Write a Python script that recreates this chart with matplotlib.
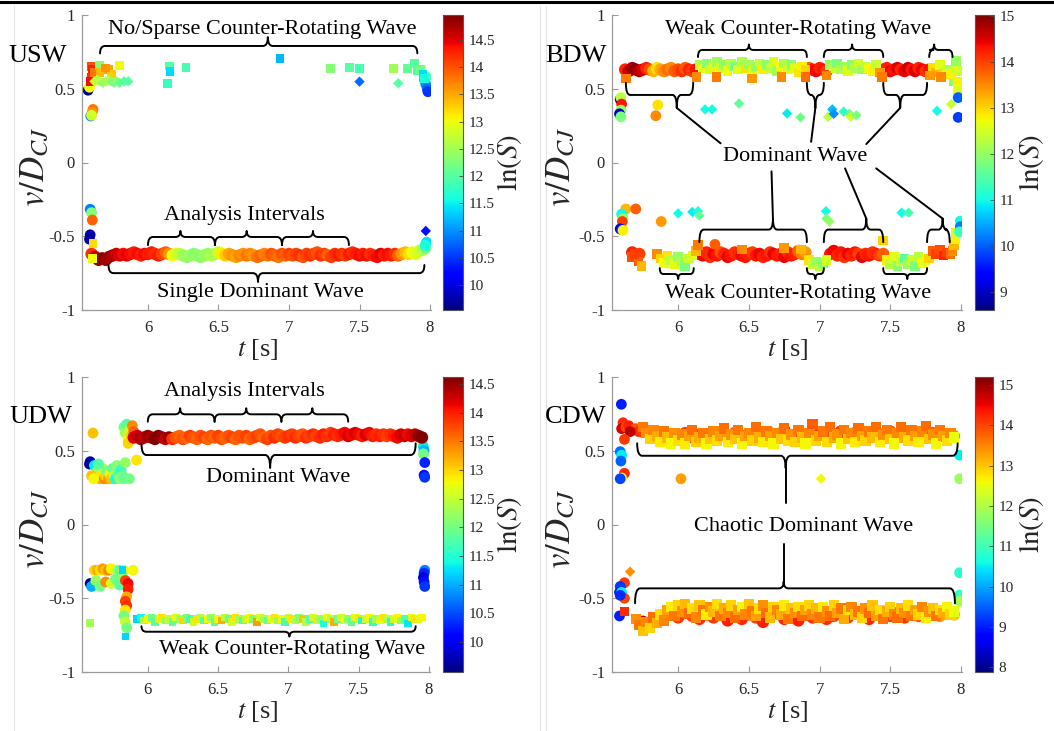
import numpy as np
import matplotlib
matplotlib.use('Agg')
import matplotlib.pyplot as plt
from matplotlib.path import Path
from matplotlib.patches import PathPatch
from matplotlib.lines import Line2D
from matplotlib.colors import Normalize
from matplotlib.cm import ScalarMappable

plt.rcParams['font.family'] = ['Liberation Serif', 'DejaVu Serif']
plt.rcParams['mathtext.fontset'] = 'stix'

# ---------------- axis / tick definitions ----------------
x_ticks = [6, 6.5, 7, 7.5, 8]
x_ticklabels = ['6', '6.5', '7', '7.5', '8']
y_ticks = [-1, -0.5, 0, 0.5, 1]
y_ticklabels = ['-1', '-0.5', '0', '0.5', '1']
panel_names = ['USW', 'BDW', 'UDW', 'CDW']

usw_clim = (9.55, 14.95)
usw_cticks = [10, 10.5, 11, 11.5, 12, 12.5, 13, 13.5, 14, 14.5]
bdw_clim = (8.6, 15.02)
bdw_cticks = [9, 10, 11, 12, 13, 14, 15]
udw_clim = (9.48, 14.62)
udw_cticks = [10, 10.5, 11, 11.5, 12, 12.5, 13, 13.5, 14, 14.5]
cdw_clim = (7.88, 15.2)
cdw_cticks = [8, 9, 10, 11, 12, 13, 14, 15]

# ---------------- USW data ----------------
usw_band_t = (5.60, 7.95)
usw_band_v = [-0.62, -0.64, -0.66, -0.65, -0.66,
              -0.64, -0.63, -0.62, -0.63, -0.62, -0.63, -0.62, -0.61, -0.62, -0.63, -0.62, -0.62,
              -0.61, -0.62, -0.63, -0.62, -0.61, -0.62, -0.63, -0.62, -0.62, -0.63, -0.64, -0.63, -0.62, -0.63, -0.64, -0.63, -0.62, -0.63, -0.62, -0.61,
              -0.62, -0.63, -0.62, -0.63, -0.64, -0.63, -0.62, -0.63, -0.62, -0.63, -0.64, -0.63, -0.62, -0.63, -0.62, -0.63, -0.64, -0.62, -0.63, -0.62,
              -0.63, -0.62, -0.63, -0.64, -0.62, -0.63, -0.62, -0.61, -0.63, -0.62, -0.63, -0.64, -0.62, -0.63, -0.62, -0.63, -0.62, -0.61, -0.62, -0.63,
              -0.62, -0.63, -0.62, -0.63, -0.64, -0.62, -0.63, -0.62, -0.63, -0.62, -0.63, -0.62, -0.61, -0.62, -0.61, -0.62, -0.60, -0.59]
usw_band_c = [14.2, 14.6, 14.9, 14.9, 14.8,
              14.8, 14.7, 14.6, 14.5, 14.4, 14.5, 14.4, 14.3, 14.4, 14.3, 14.4, 14.3,
              14.3, 14.2, 14.3, 14.1, 13.9, 13.6, 13.0, 12.9, 12.7, 12.5, 12.4, 12.5, 12.3, 12.4, 12.3, 12.5, 12.4, 12.6, 12.5, 12.8,
              13.1, 13.3, 13.5, 13.6, 13.5, 13.7, 13.6, 13.8, 13.7, 13.6, 13.8, 13.9, 13.7, 13.8, 14.0, 13.9, 13.8, 14.0, 13.9, 14.1,
              14.0, 14.1, 14.2, 14.0, 14.1, 14.2, 14.1, 14.0, 14.2, 14.1, 13.9, 14.1, 14.2, 14.3, 14.2, 14.1, 14.3, 14.2, 14.3, 14.4,
              14.3, 14.4, 14.2, 14.3, 14.4, 14.5, 14.3, 14.4, 14.3, 14.2, 13.9, 13.6, 13.4, 13.2, 13.0, 12.9, 12.8, 12.6]

usw_circ_t = [5.575, 5.585, 5.61, 5.605, 5.594, 5.60, 5.59, 5.60, 5.605, 5.59, 5.585,
              7.96, 7.97, 7.98, 7.985, 7.975, 7.975, 7.97, 7.965]
usw_circ_v = [0.49, 0.51, 0.36, 0.34, 0.315, 0.32, -0.317, -0.34, -0.39, -0.49, -0.52,
              0.56, 0.53, 0.50, 0.48, 0.58, -0.54, -0.58, -0.56]
usw_circ_c = [9.7, 13.0, 13.8, 13.6, 11.0, 12.8, 10.9, 12.3, 13.9, 9.8, 9.7,
              11.3, 11.0, 10.8, 10.5, 12.0, 11.4, 12.0, 11.6]

usw_sq_t = [5.60, 5.605, 5.60, 5.595, 5.62, 5.655, 5.66, 5.72, 5.74, 5.80, 5.70,
            6.15, 6.156, 6.14, 6.27, 6.936, 7.296, 7.43, 7.50, 7.74, 7.84, 7.89, 7.91, 7.93, 7.95, 7.96,
            5.61, 5.605]
usw_sq_v = [0.65, 0.63, 0.58, 0.55, 0.61, 0.66, 0.61, 0.63, 0.60, 0.66, 0.64,
            0.654, 0.616, 0.537, 0.645, 0.706, 0.638, 0.645, 0.636, 0.638, 0.638, 0.67, 0.62, 0.63, 0.60, 0.57,
            -0.55, -0.65]
usw_sq_c = [14.0, 14.3, 14.2, 14.4, 13.8, 12.3, 13.4, 13.5, 13.3, 13.0, 13.6,
            12.0, 11.4, 11.8, 11.9, 11.2, 12.3, 12.0, 11.9, 12.5, 12.1, 12.0, 12.0, 12.2, 11.4, 11.6,
            13.2, 13.0]

usw_dia_t = [5.62, 5.64, 5.66, 5.68, 5.70, 5.72, 5.74, 5.76, 5.78, 5.80, 5.83, 5.86, 7.50, 7.775, 7.97]
usw_dia_v = [0.55, 0.56, 0.55, 0.54, 0.55, 0.56, 0.55, 0.54, 0.55, 0.54, 0.55, 0.55, 0.548, 0.537, -0.464]
usw_dia_c = [12.8, 12.6, 12.7, 12.4, 12.5, 12.6, 12.3, 12.2, 12.4, 12.1, 12.0, 12.0, 10.8, 12.0, 10.3]

# ---------------- BDW data ----------------
bdw_top_circ_a_t = (5.625, 6.125)
bdw_top_circ_a_v = [0.63, 0.62, 0.64, 0.63, 0.62, 0.63, 0.64, 0.63, 0.62, 0.64, 0.63, 0.62, 0.63, 0.64, 0.62, 0.63, 0.62, 0.64, 0.63, 0.62, 0.63]
bdw_top_circ_a_c = [14.2, 14.6, 14.8, 14.9, 14.7, 14.5, 14.2, 13.9, 13.2, 12.9, 13.3, 13.5, 13.7, 13.5, 13.8, 13.9, 14.1, 13.8, 14.2, 14.0, 14.3]
bdw_top_circ_b_t = (6.925, 7.05)
bdw_top_circ_b_v = [0.64, 0.63, 0.62, 0.64, 0.63, 0.62]
bdw_top_circ_b_c = [13.8, 14.3, 14.4, 14.2, 14.3, 14.0]
bdw_top_circ_c_t = (7.45, 7.775)
bdw_top_circ_c_v = [0.63, 0.64, 0.62, 0.63, 0.64, 0.63, 0.62, 0.64, 0.63, 0.62, 0.64, 0.63, 0.62, 0.63]
bdw_top_circ_c_c = [13.9, 14.2, 14.4, 14.3, 14.5, 14.2, 14.4, 14.6, 14.3, 14.5, 14.2, 14.4, 14.1, 14.3]

bdw_top_sq_d_t = (6.15, 6.90)
bdw_top_sq_d_v = [0.66, 0.64, 0.67, 0.63, 0.65, 0.68, 0.64, 0.66, 0.62, 0.67, 0.65, 0.63, 0.68, 0.64, 0.66, 0.62,
                  0.65, 0.67, 0.63, 0.66, 0.64, 0.68, 0.62, 0.65, 0.67, 0.63, 0.66, 0.64, 0.61, 0.65, 0.63]
bdw_top_sq_d_c = [12.2, 12.6, 11.9, 12.4, 12.8, 12.1, 12.5, 12.0, 12.7, 12.3, 11.8, 12.6, 12.2, 12.9, 12.1, 12.5,
                  12.0, 12.4, 12.8, 11.9, 12.3, 12.6, 12.1, 12.7, 12.2, 12.5, 11.9, 12.6, 12.9, 12.8, 13.0]
bdw_top_sq_e_t = (7.075, 7.425)
bdw_top_sq_e_v = [0.66, 0.64, 0.67, 0.63, 0.65, 0.62, 0.66, 0.64, 0.67, 0.63, 0.65, 0.64, 0.62, 0.66, 0.61]
bdw_top_sq_e_c = [12.0, 12.4, 11.8, 12.3, 12.1, 12.6, 11.9, 12.2, 12.5, 12.0, 12.3, 12.7, 12.8, 12.4, 13.4]
bdw_top_sq_f_t = (7.80, 7.95)
bdw_top_sq_f_v = [0.64, 0.61, 0.66, 0.60, 0.63, 0.62, 0.55]
bdw_top_sq_f_c = [12.9, 13.2, 12.6, 13.0, 12.4, 12.2, 12.0]

bdw_bot_circ_g_t = (6.15, 6.90)
bdw_bot_circ_g_v = [-0.62, -0.63, -0.61, -0.64, -0.62, -0.63, -0.61, -0.62, -0.64, -0.63, -0.61, -0.62, -0.63, -0.64, -0.62, -0.61,
                    -0.63, -0.62, -0.64, -0.63, -0.61, -0.62, -0.63, -0.62, -0.64, -0.61, -0.63, -0.62, -0.60, -0.62, -0.61]
bdw_bot_circ_g_c = [14.3, 14.4, 14.2, 14.1, 14.4, 14.3, 13.9, 14.2, 14.4, 14.3, 14.1, 14.2, 14.4, 14.3, 14.2, 14.0,
                    14.3, 14.4, 14.2, 14.3, 14.1, 14.4, 14.3, 14.2, 14.4, 14.1, 14.3, 14.2, 13.8, 13.6, 13.4]
bdw_bot_circ_h_t = (7.075, 7.45)
bdw_bot_circ_h_v = [-0.62, -0.60, -0.63, -0.61, -0.64, -0.62, -0.63, -0.61, -0.62, -0.64, -0.62, -0.63, -0.61, -0.62, -0.63, -0.62]
bdw_bot_circ_h_c = [14.3, 14.4, 14.2, 14.3, 14.1, 14.4, 14.2, 14.3, 14.0, 14.4, 14.2, 14.3, 14.1, 14.2, 14.0, 13.8]
bdw_bot_circ_i_t = (5.675, 5.725)
bdw_bot_circ_i_v = [-0.61, -0.63, -0.62]
bdw_bot_circ_i_c = [14.2, 14.4, 14.0]

bdw_bot_sq_j_t = (5.85, 6.125)
bdw_bot_sq_j_v = [-0.62, -0.65, -0.68, -0.63, -0.66, -0.69, -0.64, -0.67, -0.70, -0.65, -0.63, -0.60]
bdw_bot_sq_j_c = [13.5, 13.0, 12.7, 12.9, 12.3, 12.6, 12.0, 12.2, 11.8, 12.4, 12.6, 13.2]
bdw_bot_sq_k_t = (6.925, 7.05)
bdw_bot_sq_k_v = [-0.66, -0.69, -0.67, -0.70, -0.68, -0.66]
bdw_bot_sq_k_c = [12.9, 12.4, 12.0, 12.3, 11.9, 12.5]
bdw_bot_sq_l_t = (7.475, 7.775)
bdw_bot_sq_l_v = [-0.66, -0.69, -0.64, -0.70, -0.67, -0.65, -0.69, -0.66, -0.70, -0.64, -0.68, -0.66, -0.65]
bdw_bot_sq_l_c = [12.8, 12.3, 12.6, 11.9, 12.4, 11.6, 12.1, 12.5, 11.8, 12.3, 12.7, 12.6, 13.0]
bdw_bot_sq_m_t = (7.80, 7.925)
bdw_bot_sq_m_v = [-0.60, -0.62, -0.59, -0.63, -0.61, -0.62]
bdw_bot_sq_m_c = [13.8, 14.0, 13.9, 14.2, 14.0, 13.7]

bdw_circ_t = [5.59, 5.595, 5.60, 5.595, 5.585, 5.595, 5.856, 5.842, 7.98, 7.98,
              5.63, 5.70, 5.60, 5.61, 5.605, 5.59, 5.60, 5.61, 5.88, 6.26, 7.995, 7.995, 7.99]
bdw_circ_v = [0.428, 0.44, 0.396, 0.355, 0.33, 0.31, 0.39, 0.317, 0.44, 0.306,
              -0.315, -0.315, -0.35, -0.38, -0.40, -0.45, -0.455, -0.46, -0.40, -0.555, -0.397, -0.435, -0.47]
bdw_circ_c = [8.8, 12.3, 14.3, 12.0, 9.0, 11.8, 12.9, 13.5, 10.0, 9.8,
              13.2, 13.8, 11.0, 12.0, 14.0, 9.0, 9.6, 12.8, 13.4, 13.8, 11.0, 10.2, 11.3]

bdw_sq_t = [5.63, 6.13, 6.27, 6.52, 6.73, 6.90, 7.05, 7.44, 7.78, 7.86, 7.93, 7.965, 7.97, 7.975, 7.98,
            6.14, 6.45, 6.75, 6.87, 5.67, 5.72, 5.74, 5.69, 7.94, 7.95, 7.96, 7.965, 7.45]
bdw_sq_v = [0.57, 0.58, 0.58, 0.57, 0.58, 0.58, 0.59, 0.58, 0.59, 0.58, 0.60, 0.69, 0.62, 0.55, 0.50,
            -0.56, -0.59, -0.58, -0.59, -0.64, -0.67, -0.70, -0.62, -0.60, -0.56, -0.52, -0.48, -0.53]
bdw_sq_c = [13.6, 13.5, 13.6, 13.4, 13.5, 13.7, 13.5, 13.6, 13.4, 13.5, 12.8, 12.0, 12.5, 12.8, 12.6,
            13.6, 13.5, 13.4, 13.2, 13.9, 13.8, 13.2, 14.0, 13.5, 13.2, 12.8, 12.5, 13.0]

bdw_dia_t = [6.19, 6.24, 6.43, 6.77, 6.865, 7.06, 7.09, 7.10, 7.17, 7.21, 7.22, 7.26, 7.83, 7.93,
             6.0, 6.1, 6.14, 6.15, 7.045, 7.05, 7.07, 7.58, 7.63]
bdw_dia_v = [0.36, 0.36, 0.40, 0.333, 0.306, 0.31, 0.36, 0.33, 0.345, 0.33, 0.31, 0.32, 0.35, 0.395,
             -0.345, -0.335, -0.33, -0.36, -0.33, -0.38, -0.40, -0.34, -0.34]
bdw_dia_c = [11.0, 11.0, 11.6, 10.9, 11.7, 12.3, 10.6, 10.3, 11.2, 11.6, 12.5, 11.8, 11.0, 12.4,
             11.0, 10.9, 11.1, 11.6, 11.0, 11.8, 12.0, 11.0, 11.4]

# ---------------- UDW data ----------------
udw_top_t = (5.90, 7.95)
udw_top_v = [0.59, 0.60, 0.58, 0.59, 0.60, 0.59, 0.58, 0.60, 0.59, 0.58, 0.59,
             0.58, 0.59, 0.60, 0.58, 0.59, 0.60, 0.59, 0.58, 0.60, 0.59, 0.58, 0.60, 0.59, 0.60, 0.58, 0.59, 0.60, 0.59, 0.58, 0.60,
             0.59, 0.60, 0.58, 0.59, 0.60, 0.61, 0.59, 0.58, 0.60, 0.59, 0.61, 0.60, 0.59, 0.60, 0.61, 0.59, 0.60, 0.61, 0.59, 0.60,
             0.61, 0.60, 0.59, 0.61, 0.60, 0.62, 0.61, 0.60, 0.61, 0.62, 0.60, 0.61, 0.62, 0.61, 0.60, 0.61, 0.62, 0.60, 0.61, 0.60,
             0.61, 0.60, 0.61, 0.60, 0.59, 0.61, 0.60, 0.61, 0.60, 0.61, 0.60, 0.59]
udw_top_c = [14.2, 14.3, 14.4, 14.3, 14.5, 14.4, 14.6, 14.6, 14.5, 14.3, 14.5,
             13.9, 13.7, 13.6, 13.7, 13.6, 13.8, 13.7, 13.6, 13.7, 13.8, 13.6, 13.7, 13.6, 13.8, 13.7, 13.6, 13.7, 13.8, 13.6, 13.7,
             13.7, 13.8, 13.6, 13.7, 13.8, 13.7, 13.6, 13.8, 13.7, 13.9, 13.8, 13.7, 13.8, 13.9, 13.8, 13.9, 13.8, 13.7, 13.9, 13.8,
             13.9, 13.8, 13.9, 14.0, 13.9, 13.8, 14.0, 13.9, 14.0, 14.1, 14.2, 14.1, 14.2, 14.1, 14.0, 14.2, 14.1, 14.0, 13.9, 14.0,
             13.9, 13.8, 13.9, 14.0, 14.1, 14.2, 14.3, 14.1, 14.2, 14.3, 14.5, 14.6]

udw_bot_t = (5.925, 7.95)
udw_bot_v = [-0.64, -0.63, -0.65, -0.64, -0.63, -0.66, -0.64, -0.63, -0.65, -0.64,
             -0.66, -0.63, -0.64, -0.65, -0.63, -0.64, -0.66, -0.64, -0.63, -0.65,
             -0.64, -0.63, -0.66, -0.64, -0.65, -0.63, -0.64, -0.66, -0.63, -0.64,
             -0.65, -0.64, -0.63, -0.64, -0.66, -0.63, -0.64, -0.65, -0.64, -0.63,
             -0.65, -0.64, -0.66, -0.63, -0.64, -0.65, -0.63, -0.64, -0.66, -0.64,
             -0.63, -0.65, -0.64, -0.67, -0.63, -0.64, -0.66, -0.64, -0.63, -0.65,
             -0.64, -0.66, -0.63, -0.64, -0.65, -0.64, -0.63, -0.66, -0.64, -0.65,
             -0.63, -0.64, -0.66, -0.64, -0.63, -0.65, -0.64, -0.67, -0.63, -0.64,
             -0.64, -0.63]
udw_bot_c = [11.2, 11.4, 12.4, 12.8, 12.0, 11.8, 12.6, 12.9, 12.2, 12.5,
             11.9, 12.7, 12.3, 13.0, 12.1, 11.7, 12.6, 12.9, 12.4, 11.8,
             12.8, 12.2, 11.9, 12.7, 13.2, 12.4, 12.0, 12.6, 12.9, 12.3,
             11.8, 12.5, 12.8, 12.1, 13.3, 12.6, 12.4, 11.9, 12.7, 12.9,
             12.2, 12.8, 11.7, 12.5, 12.9, 12.3, 12.1, 13.1, 12.4, 11.8,
             12.6, 12.9, 12.3, 11.5, 12.7, 12.4, 13.2, 12.0, 12.6, 12.8,
             12.2, 11.9, 12.7, 12.9, 11.4, 12.5, 12.8, 11.6, 12.3, 12.7,
             12.9, 12.4, 11.5, 12.6, 12.8, 12.2, 11.8, 11.3, 12.7, 12.9,
             12.6, 12.8]

udw_circ_t = [5.61, 5.59, 5.585,
              5.62, 5.64, 5.63, 5.66, 5.67, 5.68, 5.69, 5.70, 5.71, 5.72, 5.73, 5.74, 5.75, 5.76, 5.77, 5.78, 5.79, 5.80,
              5.81, 5.82, 5.83, 5.84, 5.65, 5.60, 5.615, 5.87, 5.92,
              5.83, 5.84, 5.85, 5.86, 5.87, 5.88, 5.89, 5.90, 5.86,
              7.95, 7.955, 7.96, 7.965, 7.96, 7.97, 7.965, 7.97,
              5.62, 5.64, 5.66, 5.68, 5.70, 5.72, 5.74, 5.78, 5.80, 5.83, 5.895,
              5.59, 5.60, 5.63, 5.66, 5.70, 5.74, 5.77, 5.80, 5.82, 5.84, 5.86, 5.86,
              5.85, 5.84, 5.85, 5.84, 5.83, 5.84, 5.85,
              7.97, 7.965, 7.96, 7.965, 7.97]
udw_circ_v = [0.62, 0.426, 0.41,
              0.40, 0.36, 0.32, 0.31, 0.34, 0.38, 0.31, 0.33, 0.36, 0.31, 0.34, 0.31, 0.38, 0.33, 0.31, 0.40, 0.34, 0.31,
              0.37, 0.33, 0.31, 0.42, 0.41, 0.33, 0.31, 0.31, 0.437,
              0.66, 0.62, 0.68, 0.58, 0.64, 0.60, 0.67, 0.63, 0.55,
              0.58, 0.55, 0.527, 0.50, 0.48, 0.42, 0.335, 0.32,
              -0.31, -0.31, -0.31, -0.30, -0.31, -0.31, -0.30, -0.31, -0.31, -0.31, -0.31,
              -0.40, -0.42, -0.38, -0.42, -0.39, -0.40, -0.37, -0.41, -0.35, -0.38, -0.40, -0.44,
              -0.49, -0.52, -0.55, -0.58, -0.62, -0.66, -0.70,
              -0.31, -0.33, -0.36, -0.39, -0.42]
udw_circ_c = [13.1, 9.8, 9.6,
              11.3, 12.2, 12.6, 13.2, 12.9, 12.4, 13.4, 13.0, 12.0, 13.3, 12.7, 13.1, 11.9, 12.5, 11.4, 12.1, 11.8, 12.3,
              11.6, 12.0, 11.9, 12.2, 11.8, 13.1, 12.8, 12.0, 12.9,
              12.0, 12.3, 11.8, 12.8, 12.5, 13.0, 13.4, 13.6, 13.0,
              13.0, 12.8, 11.3, 11.0, 12.0, 10.3, 10.2, 10.4,
              13.0, 13.2, 12.9, 13.3, 13.1, 13.4, 12.8, 12.5, 11.9, 12.7, 12.8,
              9.6, 11.0, 12.2, 12.0, 13.4, 12.6, 12.0, 11.8, 12.1, 13.8, 14.1, 14.0,
              13.2, 13.8, 13.9, 12.9, 12.0, 12.5, 12.0,
              10.8, 10.3, 9.9, 10.2, 10.4]

udw_sq_t = [5.59, 5.84, 5.82]
udw_sq_v = [-0.668, -0.76, -0.31]
udw_sq_c = [12.3, 11.2, 11.2]

# ---------------- CDW data ----------------
cdw_top_sq_t = (5.75, 7.95)
cdw_top_sq_v = [0.66, 0.62, 0.58, 0.64, 0.60, 0.56, 0.63, 0.59, 0.55, 0.62,
                0.57, 0.61, 0.55, 0.60, 0.64, 0.56, 0.59, 0.62, 0.55, 0.58,
                0.63, 0.57, 0.60, 0.65, 0.56, 0.61, 0.58, 0.64, 0.55, 0.60,
                0.62, 0.57, 0.66, 0.59, 0.56, 0.63, 0.60, 0.55, 0.62, 0.58,
                0.65, 0.57, 0.61, 0.56, 0.64, 0.59, 0.55, 0.62, 0.68, 0.57,
                0.60, 0.63, 0.56, 0.66, 0.59, 0.61, 0.55, 0.64, 0.58, 0.62,
                0.56, 0.65, 0.60, 0.57, 0.63, 0.59, 0.66, 0.56, 0.61, 0.64,
                0.58, 0.55, 0.62, 0.66, 0.59, 0.57, 0.64, 0.60, 0.56, 0.63,
                0.67, 0.58, 0.61, 0.55, 0.64, 0.60, 0.57, 0.62, 0.59]
cdw_top_sq_c = [13.6, 13.4, 12.9, 13.5, 13.2, 12.7, 13.6, 13.1, 12.6, 13.4,
                12.8, 13.5, 12.7, 13.3, 13.7, 12.9, 13.2, 13.6, 12.6, 13.0,
                13.5, 12.8, 13.3, 13.7, 12.7, 13.4, 13.0, 13.6, 12.6, 13.3,
                13.5, 12.9, 13.7, 13.2, 12.7, 13.6, 13.3, 12.6, 13.5, 13.0,
                13.7, 12.8, 13.4, 12.9, 13.6, 13.1, 12.6, 13.5, 13.8, 12.9,
                13.3, 13.6, 12.8, 13.7, 13.2, 13.4, 12.6, 13.6, 13.0, 13.5,
                12.7, 13.7, 13.3, 12.9, 13.6, 13.1, 13.7, 12.7, 13.4, 13.6,
                13.0, 12.6, 13.5, 13.7, 13.2, 12.8, 13.6, 13.3, 12.7, 13.5,
                13.7, 13.0, 13.4, 12.6, 13.6, 13.3, 12.8, 13.5, 12.5]
cdw_top_circ_t = (5.75, 7.95)
cdw_top_circ_v = [0.63, 0.61, 0.60, 0.59, 0.61, 0.60, 0.62, 0.59, 0.61, 0.60,
                  0.62, 0.61, 0.59, 0.62, 0.60, 0.61, 0.63, 0.60, 0.62, 0.61,
                  0.64, 0.60, 0.62, 0.61, 0.59, 0.62, 0.60, 0.61, 0.63, 0.60,
                  0.62, 0.61, 0.60, 0.62, 0.61, 0.63, 0.60, 0.61, 0.62, 0.60,
                  0.61, 0.62, 0.60, 0.61, 0.60]
cdw_top_circ_c = [14.1, 13.9, 14.0, 13.8, 14.1, 13.9, 14.0, 13.8, 14.1, 14.0,
                  13.9, 14.2, 13.8, 14.0, 14.1, 13.9, 14.0, 14.2, 13.8, 14.1,
                  14.5, 13.9, 14.0, 14.1, 13.8, 14.0, 14.2, 13.9, 14.1, 14.0,
                  13.8, 14.1, 13.9, 14.0, 14.2, 13.9, 14.0, 13.8, 14.1, 13.9,
                  13.7, 13.8, 13.6, 13.5, 13.4]

cdw_bot_sq_t = (5.70, 7.95)
cdw_bot_sq_v = [-0.64, -0.68, -0.72, -0.66, -0.70, -0.63, -0.67, -0.61, -0.65, -0.58,
                -0.56, -0.62, -0.55, -0.59, -0.54, -0.60, -0.57, -0.63, -0.55, -0.58,
                -0.61, -0.56, -0.59, -0.54, -0.62, -0.57, -0.60, -0.55, -0.63, -0.58,
                -0.56, -0.61, -0.54, -0.59, -0.62, -0.57, -0.55, -0.60, -0.63, -0.56,
                -0.58, -0.61, -0.55, -0.64, -0.57, -0.60, -0.56, -0.62, -0.58, -0.55,
                -0.61, -0.57, -0.63, -0.56, -0.59, -0.62, -0.55, -0.60, -0.57, -0.64,
                -0.58, -0.56, -0.61, -0.59, -0.63, -0.57, -0.60, -0.55, -0.62, -0.58,
                -0.64, -0.59, -0.56, -0.61, -0.63, -0.57, -0.60, -0.55, -0.62, -0.58,
                -0.61, -0.56, -0.63, -0.59, -0.57, -0.62, -0.58, -0.60, -0.56, -0.61,
                -0.59]
cdw_bot_sq_c = [13.4, 13.6, 13.0, 13.5, 12.9, 13.7, 13.2, 12.8, 13.5, 13.3,
                12.7, 13.6, 12.9, 13.4, 13.1, 13.7, 12.8, 13.5, 13.0, 13.6,
                12.7, 13.4, 13.1, 12.8, 13.6, 13.2, 13.5, 12.9, 13.7, 13.3,
                12.6, 13.5, 13.0, 13.6, 13.3, 12.8, 13.4, 13.7, 13.1, 12.9,
                13.5, 13.2, 12.7, 13.6, 13.0, 13.4, 12.8, 13.7, 13.3, 12.9,
                13.5, 13.1, 13.6, 12.7, 13.4, 13.7, 12.9, 13.3, 13.6, 13.2,
                12.8, 13.5, 13.1, 13.6, 12.9, 13.4, 13.7, 13.0, 13.3, 12.8,
                13.6, 13.2, 12.9, 13.5, 13.7, 13.1, 13.4, 12.8, 13.6, 13.3,
                12.9, 13.5, 12.7, 13.4, 13.0, 13.6, 12.8, 13.2, 12.6, 12.9,
                12.5]
cdw_bot_circ_t = (5.75, 7.95)
cdw_bot_circ_v = [-0.66, -0.68, -0.65, -0.63, -0.61, -0.63, -0.60, -0.62, -0.64, -0.61,
                  -0.63, -0.60, -0.65, -0.62, -0.64, -0.61, -0.63, -0.66, -0.62, -0.60,
                  -0.64, -0.62, -0.65, -0.61, -0.63, -0.60, -0.64, -0.62, -0.61, -0.63,
                  -0.60, -0.62, -0.64, -0.61, -0.63, -0.62, -0.60, -0.63, -0.61, -0.62,
                  -0.60, -0.61, -0.62, -0.60, -0.61]
cdw_bot_circ_c = [14.8, 14.5, 14.2, 14.0, 13.9, 14.1, 13.8, 14.0, 14.2, 13.9,
                  14.1, 13.8, 14.3, 14.0, 14.2, 13.9, 14.1, 14.3, 14.0, 13.8,
                  14.2, 14.0, 14.3, 13.9, 14.1, 13.8, 14.2, 14.0, 13.9, 14.1,
                  13.8, 14.0, 14.2, 13.9, 14.1, 14.0, 13.8, 14.1, 13.9, 13.8,
                  13.6, 13.5, 13.3, 13.2, 13.0]

cdw_circ_t = [5.598, 5.61, 5.60, 5.63, 5.65, 5.68, 5.70, 5.72, 5.66, 5.62,
              5.59, 5.60, 5.595, 5.62, 5.60, 5.59, 6.02, 7.99, 7.99,
              5.62, 5.59, 5.585, 5.60, 5.62, 5.59, 5.585, 7.99, 7.99, 7.99]
cdw_circ_v = [0.815, 0.69, 0.65, 0.66, 0.67, 0.64, 0.65, 0.63, 0.63, 0.577,
              0.494, 0.47, 0.43, 0.347, 0.315, 0.31, 0.31, 0.31, 0.47,
              -0.395, -0.42, -0.46, -0.46, -0.50, -0.48, -0.62, -0.327, -0.478, -0.52]
cdw_circ_c = [9.0, 14.2, 14.6, 14.0, 14.3, 14.1, 13.9, 14.2, 14.8, 14.1,
              9.6, 10.5, 9.5, 14.2, 12.5, 9.3, 13.3, 11.8, 10.5,
              14.1, 9.2, 9.0, 10.5, 14.0, 9.1, 9.0, 10.8, 10.9, 11.9]
cdw_sq_t = [5.62]
cdw_sq_v = [-0.59]
cdw_sq_c = [14.2]
cdw_dia_t = [7.01, 5.66]
cdw_dia_v = [0.31, -0.32]
cdw_dia_c = [12.6, 13.4]

# ---------------- drawing ----------------
W, H = 1054, 731
fig = plt.figure(figsize=(W / 100, H / 100), dpi=100)
fig.patch.set_facecolor('white')
AXC = '#9a9a9a'
TXT = '#262626'


def fr(x0, y0, x1, y1):
    return [x0 / W, 1 - y1 / H, (x1 - x0) / W, (y1 - y0) / H]


def band(span, v):
    return np.linspace(span[0], span[1], len(v))


def make_panel(box, cbox, clim, cticks, name, name_xy, ylab_x, xlab_xy, clab_x):
    ax = fig.add_axes(fr(*box))
    ax.set_xlim(5.532, 8.007)
    ax.set_ylim(-1, 1)
    ax.set_xticks(x_ticks)
    ax.set_xticklabels(x_ticklabels)
    ax.set_yticks(y_ticks)
    ax.set_yticklabels(y_ticklabels)
    for s in ['top', 'right']:
        ax.spines[s].set_visible(False)
    for s in ['left', 'bottom']:
        ax.spines[s].set_color(AXC)
        ax.spines[s].set_linewidth(0.9)
    ax.tick_params(direction='in', length=4, width=0.8, color=AXC,
                   labelsize=12, labelcolor=TXT)
    ax.tick_params(axis='x', pad=7)
    ax.tick_params(axis='y', pad=5)
    cax = fig.add_axes(fr(*cbox))
    sm = ScalarMappable(norm=Normalize(*clim), cmap='jet')
    cb = fig.colorbar(sm, cax=cax)
    cb.set_ticks(cticks)
    cb.set_ticklabels([('%g' % t) for t in cticks])
    cb.outline.set_edgecolor('#555555')
    cb.outline.set_linewidth(0.8)
    cax.tick_params(direction='in', length=3, width=0.6, color='#444444',
                    labelsize=11, labelcolor=TXT, pad=4)
    fig.text(name_xy[0] / W, 1 - name_xy[1] / H, name, fontsize=19,
             ha='center', va='center', color='black')
    cy = (box[1] + box[3]) / 2
    fig.text(ylab_x / W, 1 - (cy + 4) / H, r'$v/D_{CJ}$', fontsize=25,
             rotation=90, ha='center', va='center', color=TXT)
    fig.text(xlab_xy[0] / W, 1 - xlab_xy[1] / H, r'$t$ [s]',
             fontsize=19, ha='center', va='center', color=TXT)
    fig.text(clab_x / W, 1 - cy / H, r'$\ln(S)$', fontsize=21,
             rotation=90, ha='center', va='center', color=TXT)
    return ax


def pts(ax, t, v, c, clim, marker, s):
    n = min(len(t), len(v), len(c))
    ax.scatter(np.asarray(t)[:n], np.asarray(v)[:n], c=np.asarray(c)[:n],
               cmap='jet', vmin=clim[0], vmax=clim[1], marker=marker, s=s,
               edgecolors='none', zorder=2)


def brace(ax, x0, x1, y, yend, ytip, xc=None, r=0.035):
    if xc is None:
        xc = (x0 + x1) / 2
    verts = [(x0, yend), (x0, y), (x0 + r, y), (xc - r, y), (xc, y), (xc, ytip),
             (xc, y), (xc + r, y), (x1 - r, y), (x1, y), (x1, yend)]
    codes = [Path.MOVETO, Path.CURVE3, Path.CURVE3, Path.LINETO, Path.CURVE3, Path.CURVE3,
             Path.CURVE3, Path.CURVE3, Path.LINETO, Path.CURVE3, Path.CURVE3]
    ax.add_patch(PathPatch(Path(verts, codes), fill=False, lw=1.4, ec='black',
                           zorder=4, capstyle='round', joinstyle='round'))


def seg(ax, p0, p1):
    ax.plot([p0[0], p1[0]], [p0[1], p1[1]], color='black', lw=1.4, zorder=4,
            solid_capstyle='round')


def label(ax, x, y, s):
    ax.text(x, y, s, fontsize=16, ha='center', va='center', color='black', zorder=5)


S_C, S_SQ, S_D, S_SQ_SMALL = 80, 48, 28, 30

# ---- USW ----
ax1 = make_panel((82, 15, 431, 310), (443, 15, 463, 310), usw_clim, usw_cticks,
                 panel_names[0], (38, 56), 36, (258, 350), 510)
pts(ax1, band(usw_band_t, usw_band_v), usw_band_v, usw_band_c, usw_clim, 'o', S_C)
pts(ax1, usw_circ_t, usw_circ_v, usw_circ_c, usw_clim, 'o', 60)
pts(ax1, usw_sq_t, usw_sq_v, usw_sq_c, usw_clim, 's', 40)
pts(ax1, usw_dia_t, usw_dia_v, usw_dia_c, usw_clim, 'D', S_D)
label(ax1, 6.81, 0.905, 'No/Sparse Counter-Rotating Wave')
brace(ax1, 5.66, 7.91, 0.79, 0.74, 0.85, xc=6.85)
label(ax1, 6.685, -0.356, 'Analysis Intervals')
for a, b, c in [(6.0, 6.475, 6.23), (6.475, 6.95, 6.70), (6.95, 7.425, 7.17)]:
    brace(ax1, a, b, -0.505, -0.56, -0.464, xc=c)
brace(ax1, 5.72, 7.96, -0.75, -0.695, -0.81, xc=6.78)
label(ax1, 6.80, -0.88, 'Single Dominant Wave')

# ---- BDW ----
ax2 = make_panel((612, 15, 962, 310), (975, 15, 994, 310), bdw_clim, bdw_cticks,
                 panel_names[1], (576, 56), 562, (788, 350), 1032)
for sp, vv, cc in [(bdw_top_circ_a_t, bdw_top_circ_a_v, bdw_top_circ_a_c),
                   (bdw_top_circ_b_t, bdw_top_circ_b_v, bdw_top_circ_b_c),
                   (bdw_top_circ_c_t, bdw_top_circ_c_v, bdw_top_circ_c_c),
                   (bdw_bot_circ_g_t, bdw_bot_circ_g_v, bdw_bot_circ_g_c),
                   (bdw_bot_circ_h_t, bdw_bot_circ_h_v, bdw_bot_circ_h_c),
                   (bdw_bot_circ_i_t, bdw_bot_circ_i_v, bdw_bot_circ_i_c)]:
    pts(ax2, band(sp, vv), vv, cc, bdw_clim, 'o', S_C)
for sp, vv, cc in [(bdw_top_sq_d_t, bdw_top_sq_d_v, bdw_top_sq_d_c),
                   (bdw_top_sq_e_t, bdw_top_sq_e_v, bdw_top_sq_e_c),
                   (bdw_top_sq_f_t, bdw_top_sq_f_v, bdw_top_sq_f_c),
                   (bdw_bot_sq_j_t, bdw_bot_sq_j_v, bdw_bot_sq_j_c),
                   (bdw_bot_sq_k_t, bdw_bot_sq_k_v, bdw_bot_sq_k_c),
                   (bdw_bot_sq_l_t, bdw_bot_sq_l_v, bdw_bot_sq_l_c),
                   (bdw_bot_sq_m_t, bdw_bot_sq_m_v, bdw_bot_sq_m_c)]:
    pts(ax2, band(sp, vv), vv, cc, bdw_clim, 's', S_SQ)
pts(ax2, bdw_sq_t, bdw_sq_v, bdw_sq_c, bdw_clim, 's', S_SQ)
pts(ax2, bdw_circ_t, bdw_circ_v, bdw_circ_c, bdw_clim, 'o', 60)
pts(ax2, bdw_dia_t, bdw_dia_v, bdw_dia_c, bdw_clim, 'D', S_D)
label(ax2, 6.85, 0.905, 'Weak Counter-Rotating Wave')
for a, b, c in [(6.14, 6.91, 6.50), (7.03, 7.45, 7.23), (7.775, 7.94, 7.81)]:
    brace(ax2, a, b, 0.763, 0.715, 0.80, xc=c, r=0.03)
for a, b, c in [(5.63, 6.106, 5.99), (6.91, 7.03, 6.97), (7.45, 7.76, 7.57)]:
    brace(ax2, a, b, 0.458, 0.54, 0.37, xc=c, r=0.03)
seg(ax2, (5.99, 0.37), (6.30, 0.13))
seg(ax2, (6.97, 0.37), (6.94, 0.14))
seg(ax2, (7.57, 0.37), (7.33, 0.125))
label(ax2, 6.83, 0.04, 'Dominant Wave')
for a, b, c in [(6.15, 6.91, 6.67), (7.03, 7.45, 7.33), (7.76, 7.92, 7.87)]:
    brace(ax2, a, b, -0.455, -0.54, -0.38, xc=c, r=0.03)
seg(ax2, (6.66, -0.06), (6.67, -0.38))
seg(ax2, (7.18, -0.04), (7.33, -0.38))
seg(ax2, (7.40, -0.04), (7.87, -0.38))
for a, b, c in [(5.87, 6.11, 6.0), (6.91, 7.03, 6.97), (7.45, 7.76, 7.62)]:
    brace(ax2, a, b, -0.756, -0.716, -0.79, xc=c, r=0.025)
label(ax2, 6.85, -0.89, 'Weak Counter-Rotating Wave')

# ---- UDW ----
ax3 = make_panel((82, 377, 430, 672), (443, 377, 463, 672), udw_clim, udw_cticks,
                 panel_names[2], (41, 417), 36, (258, 712), 510)
pts(ax3, udw_circ_t, udw_circ_v, udw_circ_c, udw_clim, 'o', 60)
pts(ax3, band(udw_top_t, udw_top_v), udw_top_v, udw_top_c, udw_clim, 'o', S_C)
pts(ax3, band(udw_bot_t, udw_bot_v), udw_bot_v, udw_bot_c, udw_clim, 's', S_SQ_SMALL)
pts(ax3, udw_sq_t, udw_sq_v, udw_sq_c, udw_clim, 's', S_SQ_SMALL)
label(ax3, 6.685, 0.90, 'Analysis Intervals')
for a, b, c in [(6.0, 6.475, 6.23), (6.475, 6.95, 6.70), (6.95, 7.425, 7.17)]:
    brace(ax3, a, b, 0.747, 0.697, 0.788, xc=c)
brace(ax3, 5.955, 7.905, 0.471, 0.55, 0.383, xc=6.87)
label(ax3, 6.93, 0.317, 'Dominant Wave')
brace(ax3, 5.955, 7.905, -0.727, -0.69, -0.76, xc=7.007)
label(ax3, 7.025, -0.846, 'Weak Counter-Rotating Wave')

# ---- CDW ----
ax4 = make_panel((612, 377, 962, 672), (975, 377, 993, 672), cdw_clim, cdw_cticks,
                 panel_names[3], (576, 417), 562, (788, 712), 1032)
pts(ax4, cdw_circ_t, cdw_circ_v, cdw_circ_c, cdw_clim, 'o', 60)
pts(ax4, band(cdw_top_circ_t, cdw_top_circ_v), cdw_top_circ_v, cdw_top_circ_c, cdw_clim, 'o', S_C)
pts(ax4, band(cdw_top_sq_t, cdw_top_sq_v), cdw_top_sq_v, cdw_top_sq_c, cdw_clim, 's', 55)
pts(ax4, band(cdw_bot_circ_t, cdw_bot_circ_v), cdw_bot_circ_v, cdw_bot_circ_c, cdw_clim, 'o', S_C)
pts(ax4, band(cdw_bot_sq_t, cdw_bot_sq_v), cdw_bot_sq_v, cdw_bot_sq_c, cdw_clim, 's', 55)
pts(ax4, cdw_sq_t, cdw_sq_v, cdw_sq_c, cdw_clim, 's', S_SQ)
pts(ax4, cdw_dia_t, cdw_dia_v, cdw_dia_c, cdw_clim, 'D', S_D)
brace(ax4, 5.71, 7.976, 0.466, 0.55, 0.383, xc=6.76)
seg(ax4, (6.76, 0.383), (6.76, 0.146))
label(ax4, 6.89, -0.015, 'Chaotic Dominant Wave')
brace(ax4, 5.695, 7.957, -0.433, -0.534, -0.388, xc=6.746)
seg(ax4, (6.746, -0.388), (6.746, -0.134))

# ---- frame decorations ----
fig.add_artist(Line2D([0, 1], [1 - 1.5 / H, 1 - 1.5 / H], transform=fig.transFigure,
                      color='black', lw=2.2))
for xp in [14, 540, 546]:
    fig.add_artist(Line2D([xp / W, xp / W], [0, 1 - 6 / H], transform=fig.transFigure,
                          color='#e2e2e2', lw=0.8))

fig.savefig('out.png', dpi=100, facecolor='white')
